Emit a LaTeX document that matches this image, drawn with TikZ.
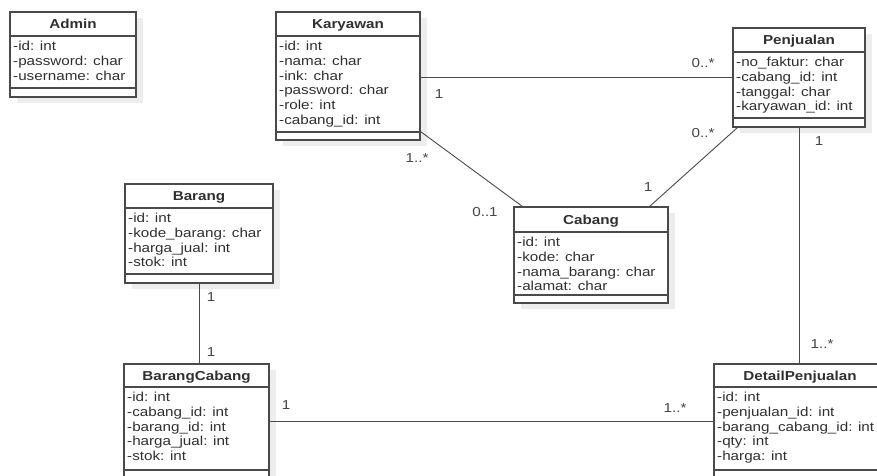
\documentclass[tikz,border=0pt]{standalone}
\usepackage{fontspec}
\setmainfont[FakeStretch=1.17]{Liberation Sans}
\usetikzlibrary{calc}
\definecolor{lc}{HTML}{4A4A4A}
\definecolor{tc}{HTML}{303030}
\definecolor{mc}{HTML}{454545}
\definecolor{sc}{HTML}{EDEDED}
\tikzset{
  classbox/.style={draw=lc, line width=1.2pt, fill=white, inner sep=0pt},
  classrule/.style={draw=lc, line width=1.1pt},
  attrtext/.style={text=tc, inner sep=0pt, font=\fontsize{13}{15}\selectfont},
  titletext/.style={text=tc, inner sep=0pt, font=\fontsize{13}{15}\selectfont\bfseries},
  assoc/.style={draw=lc, line width=0.9pt},
  mult/.style={text=mc, inner sep=0pt, font=\fontsize{13}{15}\selectfont},
}
% name, x1, y1, x2, y2, header-line y, compartment-line y, title, attributes
\newcommand\umlclass[9]{%
  \fill[sc] (#2+7,#3+6) rectangle (#4+7,#5+6);
  \node[classbox, minimum width={(#4-#2)*1pt}, minimum height={(#5-#3)*1pt}] (#1) at ({(#2+#4)/2},{(#3+#5)/2}) {};
  \draw[classrule] (#2,#6) -- (#4,#6);
  \draw[classrule] (#2,#7) -- (#4,#7);
  \node[titletext, anchor=base] (#1-title) at ({(#2+#4)/2},{(#3+#6)/2+4.7}) {#8};
  \foreach \a [count=\i from 0] in {#9}
    \node[attrtext, anchor=base west] (#1-attr-\i) at (#2+3, #6+14.6+\i*14.7) {\a};
}
\begin{document}
\begin{tikzpicture}[x=1pt, y=-1pt]
\useasboundingbox (0,0) rectangle (877,475);
\clip (0,0) rectangle (877,475);
\fill[white] (0,0) rectangle (877,475);

\umlclass{adm}{10}{12}{136}{97}{36}{88}{Admin}{-id: int, -password: char, -username: char}
\umlclass{kar}{276}{12}{420}{140}{36}{132}{Karyawan}{-id: int, -nama: char, -ink: char, -password: char, -role: int, -cabang\_id: int}
\umlclass{pen}{733}{28}{865}{127}{52}{118}{Penjualan}{-no\_faktur: char, -cabang\_id: int, -tanggal: char, -karyawan\_id: int}
\umlclass{bar}{125}{184}{273}{283}{208}{274}{Barang}{-id: int, -kode\_barang: char, -harga\_jual: int, -stok: int}
\umlclass{cab}{514}{207}{668}{303}{232}{295}{Cabang}{-id: int, -kode: char, -nama\_barang: char, -alamat: char}
\umlclass{bc}{124}{364}{269}{478}{387}{470}{BarangCabang}{-id: int, -cabang\_id: int, -barang\_id: int, -harga\_jual: int, -stok: int}
\umlclass{dp}{714}{364}{886}{478}{387}{470}{DetailPenjualan}{-id: int, -penjualan\_id: int, -barang\_cabang\_id: int, -qty: int, -harga: int}

% connectors
\draw[assoc] (pen.west) -- (pen.west -| kar.east);
\draw[assoc] ([yshift=9pt]kar.south east) -- ([xshift=9pt]cab.north west);
\draw[assoc] ([xshift=-19pt]cab.north east) -- ([xshift=5pt]pen.south west);
\draw[assoc] (pen.south) -- (pen.south |- dp.north);
\draw[assoc] (bar.south) -- (bar.south |- bc.north);
\draw[assoc] (bc.east) -- (bc.east -| dp.west);

% multiplicities
\node[mult] (m1) at (439,94) {1};
\node[mult] (m2) at (703,63) {0..*};
\node[mult] (m3) at (417,158) {1..*};
\node[mult] (m4) at (485,212) {0..1};
\node[mult] (m5) at (648,187) {1};
\node[mult] (m6) at (703,133) {0..*};
\node[mult] (m7) at (819,141) {1};
\node[mult] (m8) at (822,344) {1..*};
\node[mult] (m9) at (211,297) {1};
\node[mult] (m10) at (211,352) {1};
\node[mult] (m11) at (286,405) {1};
\node[mult] (m12) at (675,408) {1..*};
\end{tikzpicture}
\end{document}
